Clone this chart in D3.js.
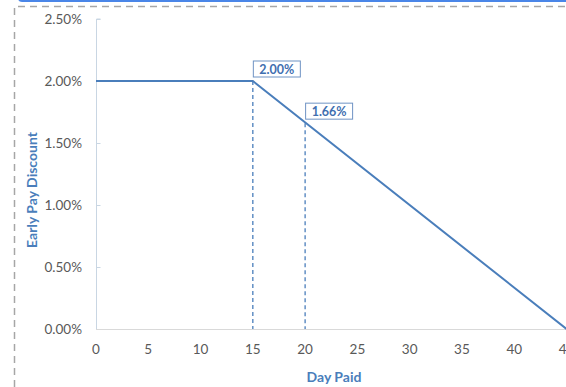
<!DOCTYPE html>
<html>
<head>
<meta charset="utf-8">
<script src="https://cdn.jsdelivr.net/npm/d3@7"></script>
<style>
  html, body { margin: 0; padding: 0; background: #fff; }
  svg { display: block; font-family: Lato, "Liberation Sans", Arial, sans-serif; }
</style>
</head>
<body>
<svg id="chart" width="566" height="387"></svg>
<script>
// Discount schedule: flat until day 15, then declining to zero at day 45
const dayPaid = [0, 15, 45];
const discountPct = [2.0, 2.0, 0.0];

// Highlighted days with their labelled discounts
const markerDays = [15, 20];
const markerValues = [2.00, 1.66];

const xTicks = [0, 5, 10, 15, 20, 25, 30, 35, 40, 45];
const yTicks = [0, 0.5, 1.0, 1.5, 2.0, 2.5];

const svg = d3.select("#chart");
const W = 566, H = 387;
const lineColor = "#4a7ebb";
const labelColor = "#4a7ebb";

// Frame decorations
svg.append("rect").attr("x", 18).attr("y", -6).attr("width", W).attr("height", 8)
  .attr("rx", 4).attr("fill", "#4a86e8");
svg.append("path")
  .attr("d", `M14.5,${H} V6.5 H${W}`)
  .attr("fill", "none").attr("stroke", "#a6a6a6").attr("stroke-width", 1.5)
  .attr("stroke-dasharray", "7,5");

const x = d3.scaleLinear().domain([0, 45]).range([96, 566.5]);
const y = d3.scaleLinear().domain([0, 2.5]).range([329, 19]);

// Y axis
const yAxis = svg.append("g").attr("transform", "translate(96.5,0)")
  .call(d3.axisRight(y).tickValues(yTicks).tickSize(4).tickFormat(""));
yAxis.select(".domain").attr("stroke", "#c9d6e3").attr("d", `M4,19H0V329`);
yAxis.selectAll(".tick line").attr("stroke", "#c9d6e3");

svg.append("g").selectAll("text").data(yTicks).join("text")
  .attr("x", 82).attr("y", d => y(d)).attr("dy", "0.35em")
  .attr("text-anchor", "end").attr("fill", "#595959").attr("font-size", 13.5)
  .text(d => d.toFixed(2) + "%");

// X axis
svg.append("line").attr("x1", 96).attr("x2", W).attr("y1", 329.5).attr("y2", 329.5)
  .attr("stroke", "#d9d9d9");
svg.append("g").selectAll("text").data(xTicks).join("text")
  .attr("x", d => x(d)).attr("y", 354)
  .attr("text-anchor", "middle").attr("fill", "#595959").attr("font-size", 13.5)
  .text(d => d);

// Dashed drop lines from highlighted points
svg.append("g").selectAll("line").data(markerDays).join("line")
  .attr("x1", d => x(d)).attr("x2", d => x(d))
  .attr("y1", (d, i) => y(markerValues[i])).attr("y2", 329)
  .attr("stroke", lineColor).attr("stroke-width", 1.3).attr("stroke-dasharray", "4,3");

// Discount line
const pts = dayPaid.map((d, i) => [d, discountPct[i]]);
svg.append("path").datum(pts)
  .attr("d", d3.line().x(d => x(d[0])).y(d => y(d[1])))
  .attr("fill", "none").attr("stroke", lineColor).attr("stroke-width", 2);

// Value labels in boxes
const lab = svg.append("g").selectAll("g").data(markerDays).join("g")
  .attr("transform", (d, i) => `translate(${x(d) + 0.5},${y(markerValues[i]) - 20})`);
lab.append("rect").attr("x", 0).attr("y", 0).attr("width", 47).attr("height", 16)
  .attr("fill", "#fff").attr("stroke", "#6f93c4").attr("stroke-width", 1);
lab.append("text").attr("x", 23.5).attr("y", 12.5).attr("text-anchor", "middle")
  .attr("font-size", 12.5).attr("font-weight", "bold").attr("fill", "#3f6fb0")
  .text((d, i) => markerValues[i].toFixed(2) + "%");

// Axis titles
svg.append("text").attr("x", 334).attr("y", 382).attr("text-anchor", "middle")
  .attr("font-size", 14).attr("font-weight", "bold").attr("fill", labelColor)
  .text("Day Paid");
svg.append("text").attr("transform", "translate(37,190) rotate(-90)")
  .attr("text-anchor", "middle")
  .attr("font-size", 14).attr("font-weight", "bold").attr("fill", labelColor)
  .text("Early Pay Discount");
</script>
</body>
</html>
